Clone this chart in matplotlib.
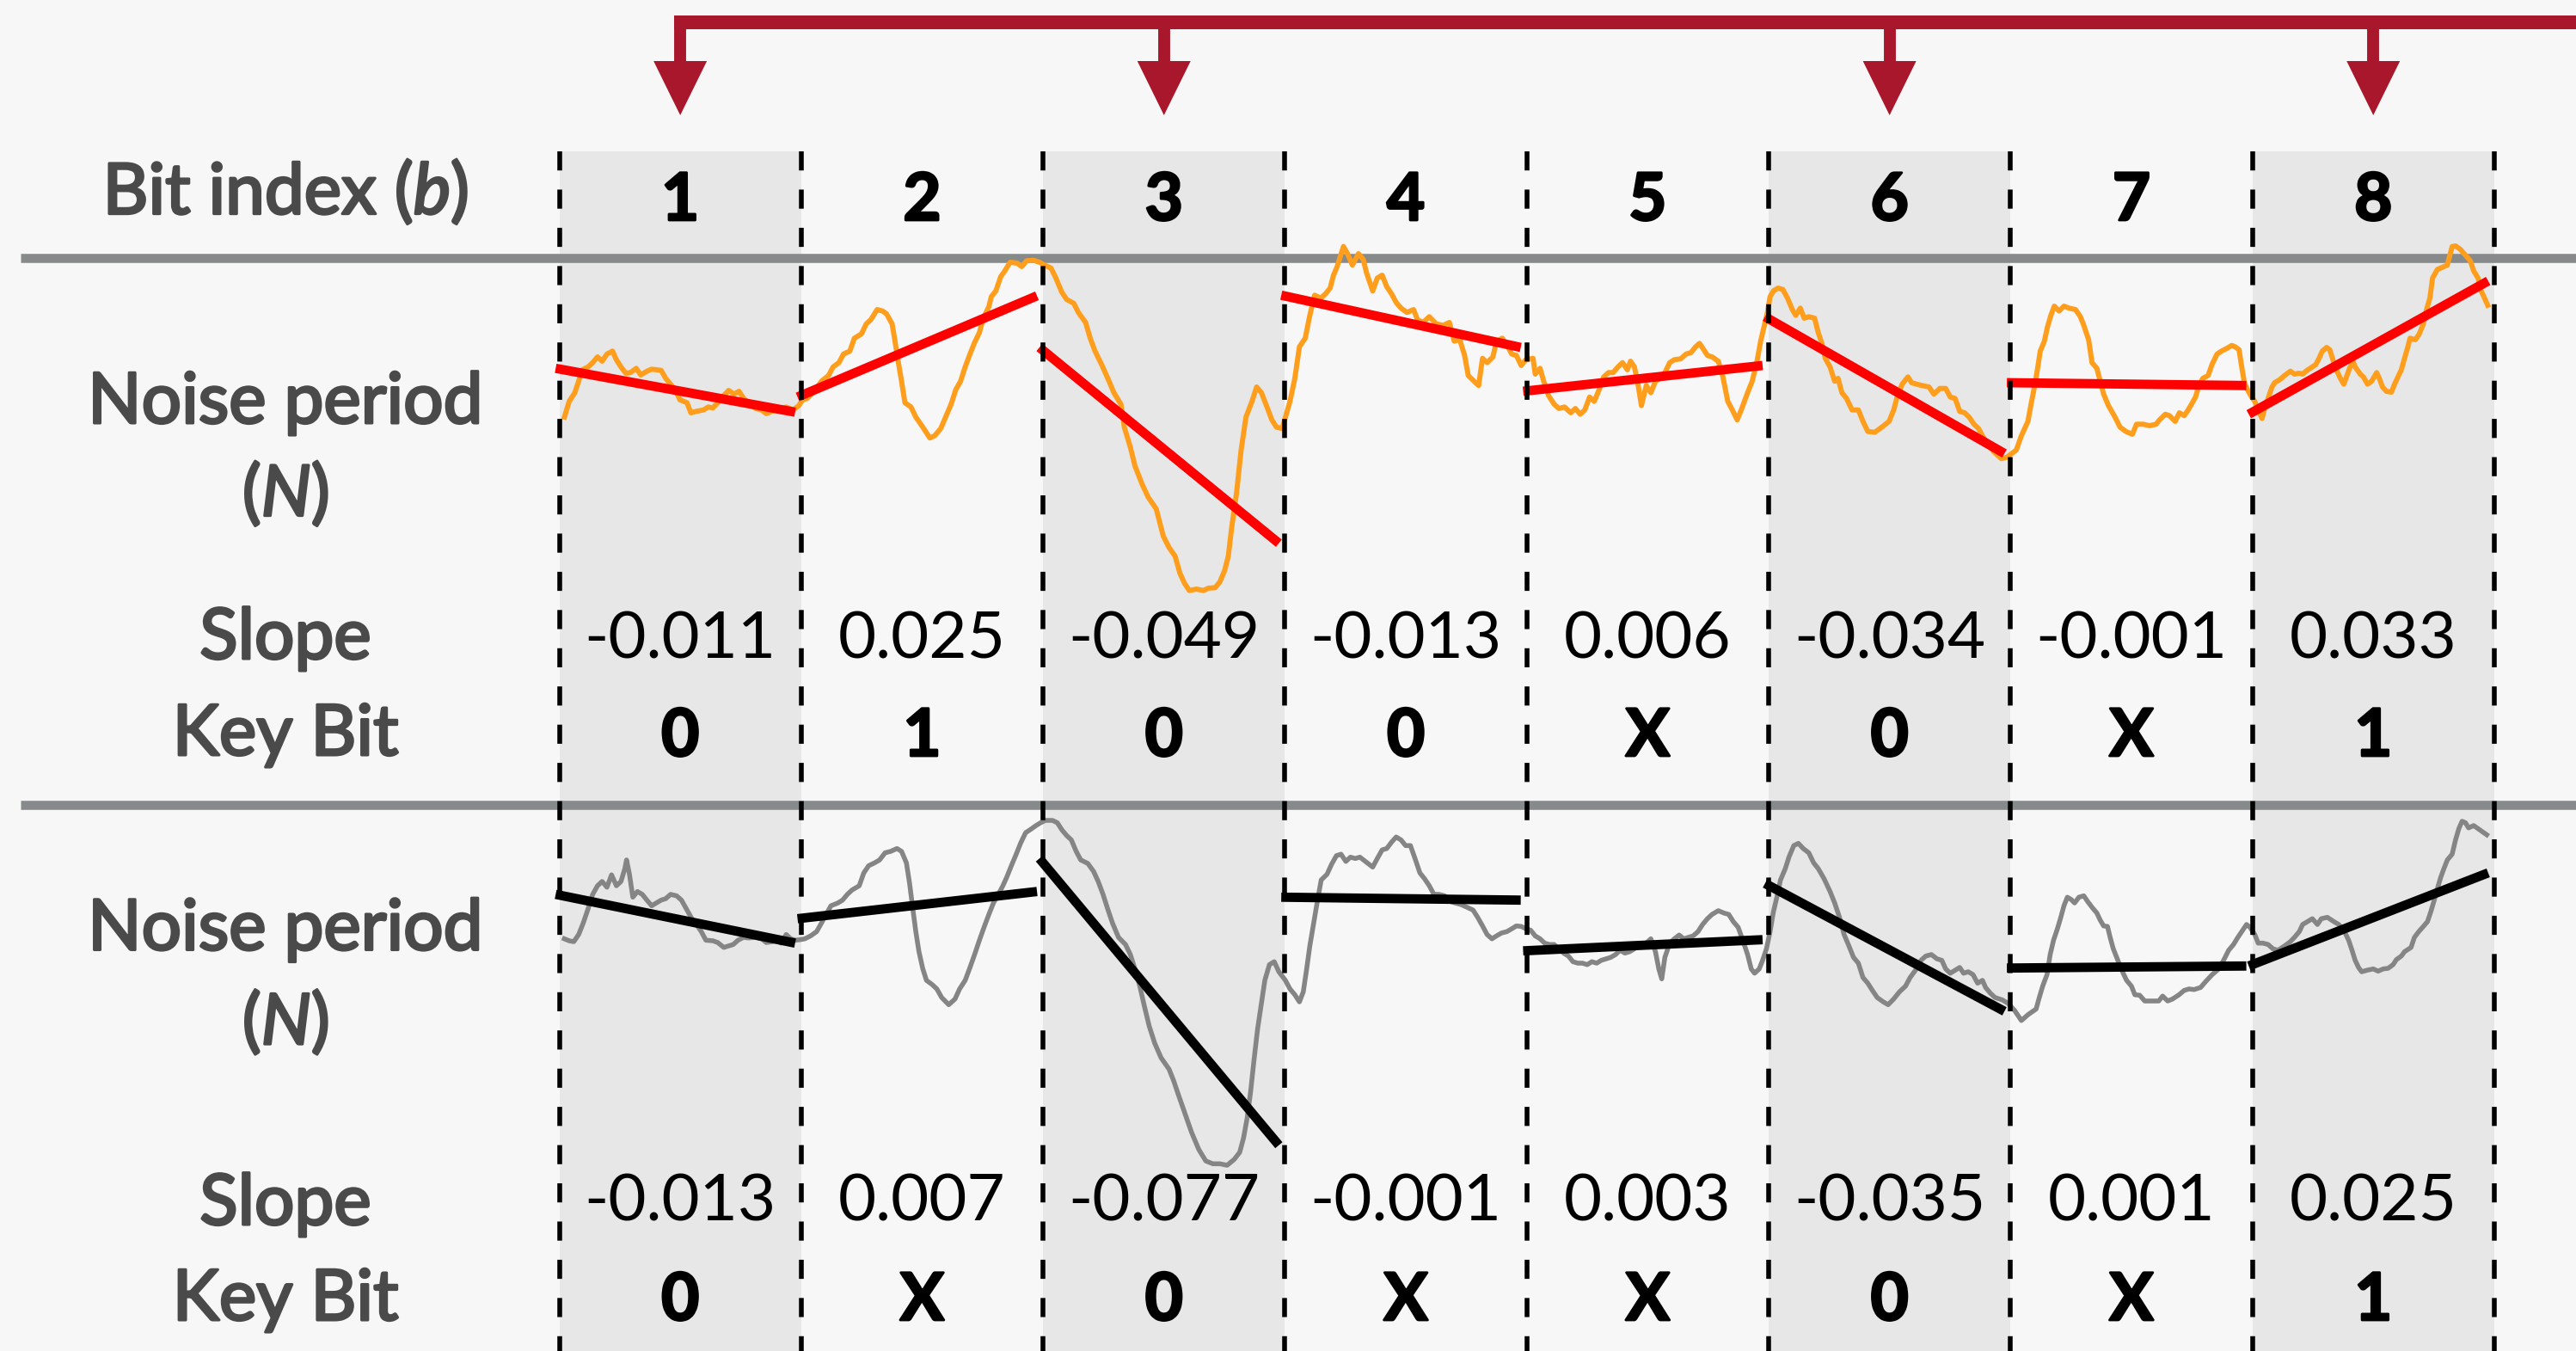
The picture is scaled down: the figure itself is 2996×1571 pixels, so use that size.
import matplotlib
matplotlib.use("Agg")
import matplotlib.pyplot as plt
import matplotlib.patheffects as pe
from matplotlib.patches import Rectangle, Polygon

plt.rcParams['font.family'] = ['Lato', 'DejaVu Sans']
plt.rcParams['mathtext.fontset'] = 'custom'
plt.rcParams['mathtext.rm'] = 'Lato'
plt.rcParams['mathtext.it'] = 'Lato:italic'
plt.rcParams['mathtext.bf'] = 'Lato:bold'

# ---------------- data ----------------
bit_index = [1, 2, 3, 4, 5, 6, 7, 8]
selected_bits = [1, 3, 6, 8]

top_slopes = [-0.011, 0.025, -0.049, -0.013, 0.006, -0.034, -0.001, 0.033]
top_keybits = ["0", "1", "0", "0", "X", "0", "X", "1"]
bottom_slopes = [-0.013, 0.007, -0.077, -0.001, 0.003, -0.035, 0.001, 0.025]
bottom_keybits = ["0", "X", "0", "X", "X", "0", "X", "1"]

# fitted line values at start / end of each bit window
top_fit_start = [271.7, 238.3, 296.0, 356.7, 245.0, 331.7, 255.0, 218.3]
top_fit_end = [220.7, 356.0, 68.3, 296.0, 275.0, 172.7, 251.7, 373.3]
bottom_fit_start = [330.0, 301.7, 371.7, 326.7, 264.3, 342.7, 244.3, 246.7]
bottom_fit_end = [273.3, 333.3, 38.3, 323.3, 277.3, 194.0, 246.7, 355.0]

# noise period trace (time in bit windows, value)
top_t = [0.021, 0.041, 0.064, 0.080, 0.095, 0.119, 0.138, 0.158, 0.177, 0.197, 0.220, 0.236, 0.255, 0.275,
         0.294, 0.318, 0.337, 0.362, 0.382, 0.421, 0.440, 0.460, 0.479, 0.499, 0.528, 0.544, 0.567, 0.596,
         0.616, 0.635, 0.655, 0.674, 0.700, 0.723, 0.743, 0.762, 0.782, 0.811, 0.836, 0.856, 0.879, 0.899,
         0.938, 0.967, 0.990, 1.006, 1.025, 1.054, 1.084, 1.113, 1.132, 1.156, 1.175, 1.201, 1.220, 1.249,
         1.269, 1.288, 1.314, 1.337, 1.353, 1.376, 1.386, 1.401, 1.415, 1.429, 1.454, 1.474, 1.503, 1.532,
         1.552, 1.577, 1.600, 1.620, 1.639, 1.659, 1.678, 1.698, 1.717, 1.737, 1.753, 1.776, 1.786, 1.805,
         1.825, 1.838, 1.864, 1.893, 1.912, 1.932, 1.961, 1.986, 2.006, 2.033, 2.053, 2.078, 2.098, 2.127,
         2.146, 2.176, 2.195, 2.215, 2.244, 2.273, 2.293, 2.322, 2.336, 2.361, 2.380, 2.410, 2.435, 2.468,
         2.497, 2.521, 2.546, 2.566, 2.585, 2.605, 2.634, 2.663, 2.683, 2.712, 2.731, 2.751, 2.766, 2.780,
         2.800, 2.819, 2.839, 2.864, 2.883, 2.903, 2.926, 2.946, 2.965, 2.989,
         3.021, 3.041, 3.060, 3.084, 3.103, 3.123, 3.148, 3.168, 3.187, 3.201, 3.216, 3.242, 3.259, 3.279,
         3.304, 3.324, 3.337, 3.363, 3.382, 3.402, 3.421, 3.441, 3.460, 3.480, 3.505, 3.532, 3.548, 3.571,
         3.597, 3.626, 3.655, 3.680, 3.700, 3.723, 3.743, 3.758, 3.782, 3.801, 3.817, 3.836, 3.860, 3.875,
         3.899, 3.922, 3.938, 3.957, 3.977, 3.996, 4.026, 4.035, 4.055, 4.070, 4.090, 4.113, 4.133, 4.156,
         4.182, 4.201, 4.221, 4.240, 4.260, 4.279, 4.299, 4.318, 4.338, 4.357, 4.377, 4.396, 4.416, 4.429,
         4.445, 4.460, 4.474, 4.494, 4.513, 4.532, 4.552, 4.571, 4.591, 4.610, 4.636, 4.659, 4.679, 4.698,
         4.714, 4.728, 4.747, 4.766, 4.792, 4.811, 4.831, 4.850, 4.870, 4.889, 4.913, 4.932, 4.952, 4.967,
         4.981, 4.995, 5.006, 5.020, 5.039, 5.059, 5.078, 5.098, 5.112, 5.131, 5.147, 5.166, 5.190, 5.205,
         5.221, 5.234, 5.254, 5.273, 5.287, 5.303, 5.322, 5.345, 5.371, 5.390, 5.410, 5.439, 5.468, 5.498,
         5.517, 5.533, 5.552, 5.576, 5.591, 5.611, 5.634, 5.663, 5.683, 5.708, 5.732, 5.751, 5.771, 5.790,
         5.810, 5.829, 5.849, 5.868, 5.887, 5.907, 5.930, 5.962, 5.985,
         6.024, 6.045, 6.072, 6.085, 6.099, 6.113, 6.123, 6.140, 6.153, 6.167, 6.181, 6.201, 6.221, 6.242,
         6.269, 6.289, 6.303, 6.323, 6.337, 6.357, 6.371, 6.385, 6.405, 6.432, 6.453, 6.477, 6.504, 6.521,
         6.548, 6.575, 6.602, 6.616, 6.640, 6.657, 6.681, 6.698, 6.718, 6.731, 6.745, 6.765, 6.779, 6.795,
         6.817, 6.834, 6.854, 6.872, 6.895, 6.915, 6.929, 6.945, 6.956, 6.967, 6.980, 6.997, 7.010, 7.024,
         7.040, 7.051, 7.065, 7.081, 7.092, 7.112, 7.133, 7.157, 7.174, 7.194, 7.208, 7.221, 7.239, 7.262,
         7.276, 7.289, 7.307, 7.320, 7.337, 7.350, 7.364, 7.378, 7.391, 7.402, 7.416, 7.425, 7.446, 7.459,
         7.476, 7.493, 7.514, 7.525, 7.538, 7.554, 7.575, 7.588, 7.602, 7.616, 7.629, 7.643, 7.652, 7.674,
         7.690, 7.707, 7.720, 7.734, 7.745, 7.765, 7.786, 7.806, 7.826, 7.840, 7.860, 7.881, 7.901, 7.915,
         7.933, 7.946, 7.960, 7.973]
top_v = [215.0, 233.3, 243.3, 256.7, 270.0, 273.3, 278.3, 285.0, 280.0, 288.3, 291.7, 281.7, 273.3, 266.0,
         266.7, 271.7, 264.0, 268.3, 270.7, 269.3, 260.0, 253.3, 246.7, 235.0, 231.7, 220.0, 221.7, 223.3,
         226.7, 225.7, 231.7, 238.3, 246.0, 241.7, 245.0, 236.7, 231.7, 225.0, 223.3, 219.0, 221.7, 223.3,
         226.7, 223.3, 228.3, 235.0, 236.7, 245.0, 256.7, 263.3, 273.3, 278.3, 288.3, 291.7, 306.7, 311.7,
         323.3, 328.3, 340.0, 338.3, 335.0, 323.3, 306.7, 280.0, 256.7, 231.7, 226.7, 215.0, 203.3, 190.7,
         193.3, 201.7, 216.7, 230.0, 246.7, 256.7, 273.3, 288.3, 301.7, 313.3, 330.0, 343.3, 355.0, 361.7,
         378.3, 383.3, 395.0, 394.0, 390.0, 396.7, 397.3, 395.0, 391.7, 388.3, 376.7, 360.0, 351.7, 347.3,
         336.7, 325.0, 306.7, 291.7, 275.0, 256.7, 243.3, 230.0, 203.3, 180.0, 158.3, 136.7, 121.7, 108.3,
         76.7, 63.3, 53.3, 33.3, 21.7, 13.3, 15.0, 13.3, 16.0, 16.7, 23.3, 36.7, 53.3, 86.7,
         126.7, 176.7, 215.0, 233.3, 250.0, 243.3, 226.7, 211.7, 203.3, 201.7,
         233.3, 260.0, 296.7, 306.7, 333.3, 356.7, 353.3, 358.3, 365.0, 380.0, 390.0, 413.3, 405.0, 391.7,
         405.0, 398.3, 383.3, 361.7, 376.7, 380.0, 366.7, 358.3, 348.3, 341.7, 336.7, 340.0, 328.3, 325.0,
         331.7, 323.3, 321.7, 325.0, 303.3, 305.0, 286.7, 263.3, 256.7, 251.7, 283.3, 278.3, 285.0, 303.3,
         306.7, 296.7, 288.3, 286.7, 275.0, 281.7, 283.3, 265.0, 271.7, 256.7, 240.0, 230.0, 225.0, 226.7,
         220.0, 225.0, 218.3, 223.3, 238.3, 233.3, 246.7, 261.7, 266.7, 266.7, 273.3, 278.3, 270.0, 280.0,
         273.3, 253.3, 228.3, 251.7, 243.3, 256.7, 260.0, 266.7, 278.3, 281.7, 282.7, 288.3, 290.0, 296.7,
         300.7, 295.0, 286.7, 285.0, 280.0, 261.7, 233.3, 223.3, 211.7, 225.0, 243.3, 256.7, 280.0, 303.3,
         320.0, 336.7, 355.0, 361.7, 365.0, 363.3, 353.3, 340.0, 333.3, 341.7, 330.0, 331.7, 330.0, 313.3,
         300.0, 283.3, 273.3, 256.7, 260.0, 243.3, 236.7, 223.3, 223.3, 210.0, 198.3, 197.3, 203.3, 210.0,
         223.3, 240.0, 253.3, 261.7, 255.0, 253.3, 251.7, 250.0, 241.7, 248.3, 248.3, 238.3, 236.7, 221.7,
         220.0, 215.0, 206.7, 201.7, 191.7, 183.3, 175.0, 166.7, 168.3,
         176.7, 193.3, 210.0, 230.0, 250.0, 273.3, 291.7, 303.3, 320.0, 333.3, 344.0, 338.3, 344.0, 341.7,
         340.0, 331.7, 321.7, 305.0, 278.3, 271.7, 256.7, 241.7, 228.3, 215.0, 203.3, 198.3, 195.0, 206.7,
         206.7, 205.0, 206.7, 211.7, 218.3, 216.7, 210.0, 220.0, 216.7, 221.7, 228.3, 238.3, 251.7, 260.0,
         263.3, 276.7, 288.3, 291.7, 295.0, 298.3, 296.7, 293.3, 273.3, 255.0, 246.7, 238.3, 233.3, 223.3,
         213.3, 225.0, 236.7, 250.0, 255.0, 258.3, 263.3, 268.3, 265.0, 266.0, 265.0, 268.3, 271.7, 276.0,
         283.3, 291.7, 296.0, 293.3, 278.3, 268.3, 260.0, 253.3, 263.3, 271.7, 280.0, 273.3, 265.0, 261.7,
         253.3, 256.7, 266.7, 260.0, 250.0, 245.0, 244.0, 253.3, 261.7, 270.0, 283.3, 296.7, 306.7, 305.0,
         311.7, 323.3, 340.0, 353.3, 376.7, 386.7, 389.3, 391.7, 413.3, 414.0, 410.0, 403.3, 396.7, 385.0,
         376.7, 361.7, 353.3, 345.0]

bottom_t = [0.021, 0.041, 0.060, 0.080, 0.099, 0.119, 0.138, 0.158, 0.177, 0.197, 0.216, 0.236, 0.255, 0.271,
            0.278, 0.290, 0.304, 0.323, 0.343, 0.362, 0.382, 0.401, 0.421, 0.440, 0.460, 0.485, 0.505, 0.528,
            0.548, 0.567, 0.587, 0.606, 0.635, 0.655, 0.680, 0.700, 0.719, 0.739, 0.762, 0.782, 0.811, 0.836,
            0.856, 0.879, 0.899, 0.918, 0.938, 0.957, 0.976, 0.996, 1.015, 1.039, 1.064, 1.084, 1.103, 1.123,
            1.152, 1.171, 1.191, 1.210, 1.240, 1.259, 1.279, 1.304, 1.324, 1.347, 1.370, 1.396, 1.415, 1.435,
            1.448, 1.460, 1.474, 1.487, 1.503, 1.518, 1.542, 1.561, 1.581, 1.610, 1.636, 1.655, 1.678, 1.698,
            1.717, 1.737, 1.756, 1.776, 1.795, 1.815, 1.834, 1.850, 1.869, 1.889, 1.908, 1.928, 1.951, 1.971,
            1.990, 2.010, 2.039, 2.059, 2.078, 2.098, 2.117, 2.137, 2.156, 2.185, 2.209, 2.228, 2.248, 2.267,
            2.287, 2.312, 2.341, 2.361, 2.380, 2.400, 2.419, 2.439, 2.462, 2.488, 2.521, 2.540, 2.560, 2.585,
            2.614, 2.644, 2.673, 2.702, 2.731, 2.761, 2.790, 2.813, 2.829, 2.844, 2.858, 2.872, 2.887, 2.903,
            2.917, 2.936, 2.956, 2.975,
            3.002, 3.021, 3.041, 3.060, 3.076, 3.090, 3.103, 3.119, 3.135, 3.150, 3.174, 3.193, 3.213, 3.232,
            3.252, 3.271, 3.291, 3.310, 3.333, 3.363, 3.382, 3.402, 3.421, 3.441, 3.460, 3.480, 3.499, 3.519,
            3.538, 3.558, 3.577, 3.597, 3.616, 3.636, 3.661, 3.684, 3.704, 3.727, 3.753, 3.778, 3.797, 3.817,
            3.836, 3.856, 3.875, 3.895, 3.918, 3.938, 3.957, 3.977, 3.996, 4.016, 4.035, 4.055, 4.074, 4.094,
            4.113, 4.133, 4.152, 4.172, 4.191, 4.211, 4.230, 4.250, 4.269, 4.289, 4.308, 4.328, 4.347, 4.367,
            4.386, 4.406, 4.425, 4.445, 4.464, 4.494, 4.513, 4.532, 4.546, 4.558, 4.571, 4.591, 4.610, 4.630,
            4.649, 4.669, 4.688, 4.708, 4.727, 4.747, 4.766, 4.792, 4.815, 4.835, 4.854, 4.874, 4.893, 4.913,
            4.928, 4.942, 4.961, 4.975, 4.991, 5.006, 5.020, 5.034, 5.049, 5.069, 5.084, 5.104, 5.123, 5.143,
            5.166, 5.186, 5.205, 5.229, 5.254, 5.273, 5.293, 5.312, 5.332, 5.351, 5.371, 5.390, 5.410, 5.429,
            5.449, 5.474, 5.494, 5.517, 5.541, 5.566, 5.585, 5.611, 5.630, 5.650, 5.673, 5.696, 5.716, 5.732,
            5.751, 5.771, 5.790, 5.806, 5.825, 5.845, 5.864, 5.884, 5.897, 5.917, 5.936, 5.966,
            5.990, 6.017, 6.045, 6.072, 6.106, 6.119, 6.133, 6.151, 6.164, 6.178, 6.194, 6.208, 6.221, 6.235,
            6.251, 6.265, 6.283, 6.303, 6.319, 6.337, 6.357, 6.371, 6.385, 6.401, 6.412, 6.425, 6.439, 6.453,
            6.466, 6.480, 6.500, 6.514, 6.534, 6.555, 6.582, 6.613, 6.629, 6.650, 6.670, 6.697, 6.718, 6.738,
            6.759, 6.786, 6.806, 6.834, 6.861, 6.881, 6.902, 6.922, 6.940, 6.956, 6.976, 6.990, 7.010, 7.024,
            7.044, 7.065, 7.085, 7.106, 7.133, 7.157, 7.174, 7.194, 7.208, 7.228, 7.248, 7.269, 7.285, 7.310,
            7.337, 7.357, 7.378, 7.398, 7.412, 7.425, 7.439, 7.452, 7.473, 7.500, 7.520, 7.541, 7.561, 7.582,
            7.595, 7.616, 7.629, 7.656, 7.670, 7.688, 7.707, 7.724, 7.738, 7.752, 7.765, 7.779, 7.792, 7.806,
            7.826, 7.840, 7.854, 7.867, 7.881, 7.894, 7.915, 7.935, 7.956, 7.969]
bottom_v = [278.3, 276.0, 275.0, 283.3, 296.7, 313.3, 330.0, 340.0, 345.0, 338.3, 352.7, 340.0, 345.0, 360.0,
            370.0, 353.3, 326.7, 333.3, 330.0, 323.3, 316.7, 320.0, 323.3, 325.0, 330.0, 328.3, 323.3, 311.7,
            301.7, 295.0, 286.7, 276.7, 276.0, 274.0, 268.3, 270.0, 271.7, 276.7, 280.0, 279.3, 280.0, 278.3,
            274.0, 275.0, 276.0, 273.3, 283.3, 278.3, 276.7, 277.3, 278.3, 281.7, 286.7, 296.7, 306.7, 316.7,
            320.0, 323.3, 330.0, 335.0, 340.0, 355.0, 363.3, 366.7, 370.0, 378.3, 380.0, 383.3, 380.0, 366.7,
            343.3, 316.7, 286.7, 263.3, 243.3, 230.0, 225.0, 220.0, 210.0, 201.7, 208.3, 220.0, 230.0, 245.0,
            260.0, 276.7, 291.7, 306.7, 320.0, 330.0, 340.0, 350.0, 363.3, 376.7, 390.0, 401.7, 406.0, 410.0,
            413.3, 416.0, 416.0, 413.3, 405.0, 398.3, 393.3, 380.0, 370.0, 366.0, 356.7, 345.0, 330.0, 313.3,
            296.7, 280.0, 271.7, 260.0, 243.3, 223.3, 200.0, 176.7, 156.7, 140.0, 126.7, 113.3, 96.7, 76.7,
            53.3, 33.3, 20.0, 16.7, 16.7, 15.0, 21.7, 30.0, 46.7, 70.0, 100.0, 136.7, 173.3, 203.3,
            230.0, 248.3, 251.7, 240.0,
            230.0, 220.0, 213.3, 205.0, 216.7, 243.3, 270.0, 296.7, 323.3, 346.7, 353.3, 365.0, 375.0, 376.7,
            368.3, 373.3, 371.7, 373.3, 368.3, 361.7, 371.7, 381.7, 383.3, 390.7, 396.7, 393.3, 386.7, 386.7,
            371.7, 355.0, 348.3, 340.0, 330.0, 330.0, 328.3, 321.7, 320.0, 318.3, 315.0, 311.7, 303.3, 293.3,
            283.3, 278.3, 281.7, 285.0, 286.7, 290.0, 293.3, 292.7, 290.0, 288.3, 281.7, 278.3, 273.3, 271.7,
            271.7, 266.7, 261.7, 258.3, 251.7, 250.0, 250.0, 248.3, 251.7, 250.0, 253.3, 255.0, 256.7, 260.0,
            265.0, 261.7, 263.3, 266.7, 271.7, 273.3, 278.3, 263.3, 243.3, 231.7, 256.7, 273.3, 278.3, 282.7,
            278.3, 280.0, 281.7, 286.7, 295.0, 301.7, 306.7, 311.0, 308.3, 306.7, 298.3, 291.7, 276.7, 260.0,
            243.3, 238.3, 243.3, 253.3, 266.7, 286.7, 310.0, 326.7, 346.7, 360.0, 373.3, 386.7, 389.3, 383.3,
            378.3, 366.7, 360.0, 348.3, 333.3, 320.0, 303.3, 283.3, 270.0, 256.7, 250.0, 233.3, 226.7, 218.3,
            210.0, 205.0, 201.7, 208.3, 216.7, 223.3, 233.3, 243.3, 253.3, 258.3, 260.0, 255.0, 253.3, 243.3,
            238.3, 241.7, 245.0, 238.3, 240.0, 236.7, 226.7, 230.0, 221.7, 215.0, 210.0, 207.3,
            203.3, 195.0, 183.3, 190.0, 196.7, 210.0, 223.3, 236.7, 260.0, 276.7, 290.0, 303.3, 316.7, 326.7,
            324.0, 320.0, 326.7, 328.3, 321.7, 315.0, 308.3, 300.0, 293.3, 292.7, 280.0, 266.7, 256.7, 246.7,
            238.3, 230.0, 223.3, 213.3, 212.7, 206.0, 206.0, 206.0, 211.7, 206.0, 208.3, 213.3, 218.3, 220.0,
            219.3, 221.7, 228.3, 236.7, 243.3, 253.3, 265.0, 271.7, 280.0, 286.7, 295.0, 291.7, 283.3, 273.3,
            273.3, 271.7, 266.7, 265.0, 270.0, 275.0, 280.0, 286.7, 295.0, 298.3, 301.7, 295.0, 301.7, 303.3,
            298.3, 295.0, 288.3, 276.7, 265.0, 253.3, 245.0, 240.0, 241.7, 243.3, 240.7, 243.3, 244.0, 248.3,
            254.0, 258.3, 263.3, 268.3, 280.0, 286.7, 292.7, 298.3, 310.0, 323.3, 336.7, 350.0, 360.0, 370.0,
            376.7, 393.3, 406.7, 415.0, 413.3, 407.3, 410.0, 406.0, 401.7, 399.3]

# ---------------- layout ----------------
W, H, DPI = 2996, 1571, 100
COL_X0, COL_W = 650.5, 281.3            # pixel position of window 1 and window width
XLIM = (-COL_X0 / COL_W, (W - COL_X0) / COL_W)
BG = '#f7f7f7'
SHADE = '#e7e7e7'
SEP = '#868a8a'
LABEL = '#4a4a4a'
ARROW = '#a8172b'
ORANGE = '#ff9e1c'
GRAYC = '#858585'

fig = plt.figure(figsize=(W / DPI, H / DPI), dpi=DPI, facecolor=BG)
ax = fig.add_axes([0, 0, 1, 1])
ax.set_xlim(*XLIM)
ax.set_ylim(H, 0)
ax.axis('off')
ax.set_facecolor(BG)

n = len(bit_index)
label_x = (332 - COL_X0) / COL_W
top_area = 176

# shaded windows
for b in selected_bits:
    ax.add_patch(Rectangle((b - 1, top_area), 1, H - top_area, facecolor=SHADE, edgecolor='none', zorder=0))

# separators
for ysep in (300, 936):
    ax.plot([(24 - COL_X0) / COL_W, XLIM[1]], [ysep, ysep], color=SEP, lw=7.6,
            solid_capstyle='butt', zorder=2)

# arrows
bar_y = 26
stem_half = 7 / COL_W
centers = [b - 0.5 for b in selected_bits]
ax.plot([centers[0] - stem_half, XLIM[1]], [bar_y, bar_y], color=ARROW, lw=11.5,
        solid_capstyle='butt', zorder=3)
for c in centers:
    ax.plot([c, c], [bar_y, 73], color=ARROW, lw=10, solid_capstyle='butt', zorder=3)
    hw = 31 / COL_W
    ax.add_patch(Polygon([(c - hw, 71), (c + hw, 71), (c, 134)], closed=True,
                         facecolor=ARROW, edgecolor='none', zorder=3))

# row labels (slightly emboldened with a stroke)
lab_pe = [pe.withStroke(linewidth=2.2, foreground=LABEL)]
lab_kw = dict(ha='center', va='baseline', color=LABEL, fontsize=59, path_effects=lab_pe)
ax.text(label_x, 249, r'Bit index ($\mathit{b}$)', **lab_kw)
for (y1, y2, y3, y4) in ((492, 600, 766, 878), (1104.5, 1214.5, 1424, 1535)):
    ax.text(label_x, y1, 'Noise period', **lab_kw)
    ax.text(label_x, y2, r'($\mathit{N}$)', **lab_kw)
    ax.text(label_x, y3, 'Slope', **lab_kw)
    ax.text(label_x, y4, 'Key Bit', **lab_kw)

bold_pe = [pe.withStroke(linewidth=2.0, foreground='black')]
for i, b in enumerate(bit_index):
    xc = b - 0.5
    ax.text(xc, 256, str(b), ha='center', va='baseline', fontsize=55, fontweight='bold',
            color='black', path_effects=bold_pe)
    ax.text(xc, 765, f'{top_slopes[i]:.3f}', ha='center', va='baseline', fontsize=55, color='black')
    ax.text(xc, 879, top_keybits[i], ha='center', va='baseline', fontsize=55, fontweight='bold',
            color='black', path_effects=bold_pe)
    ax.text(xc, 1420, f'{bottom_slopes[i]:.3f}', ha='center', va='baseline', fontsize=55, color='black')
    ax.text(xc, 1535, bottom_keybits[i], ha='center', va='baseline', fontsize=55, fontweight='bold',
            color='black', path_effects=bold_pe)

# noise panels
def panel(y_top, y_bot, t, v, fs, fe, curve_color, fit_color, curve_lw):
    pax = fig.add_axes([0, (H - y_bot) / H, 1, (y_bot - y_top) / H])
    pax.set_xlim(*XLIM)
    pax.set_ylim(0, y_bot - y_top)
    pax.axis('off')
    pax.patch.set_alpha(0)
    pax.plot(t, v, color=curve_color, lw=curve_lw, solid_joinstyle='round', clip_on=False, zorder=2)
    for i, b in enumerate(bit_index):
        pax.plot([b - 1 - 0.015, b - 0.025], [fs[i], fe[i]], color=fit_color, lw=7.8,
                 solid_capstyle='butt', clip_on=False, zorder=3)
    return pax

panel(280, 700, top_t, top_v, top_fit_start, top_fit_end, ORANGE, '#ff0000', 4.3)
panel(940, 1370, bottom_t, bottom_v, bottom_fit_start, bottom_fit_end, GRAYC, 'black', 4.0)

# dashed window boundaries on top
ov = fig.add_axes([0, 0, 1, 1])
ov.set_xlim(*XLIM)
ov.set_ylim(H, 0)
ov.axis('off')
ov.patch.set_alpha(0)
for k in range(n + 1):
    ov.plot([k, k], [top_area, H], color='black', lw=4, linestyle=(0, (4, 4)),
            dash_capstyle='butt', zorder=5)

fig.savefig('out.png', dpi=DPI, facecolor=BG)
